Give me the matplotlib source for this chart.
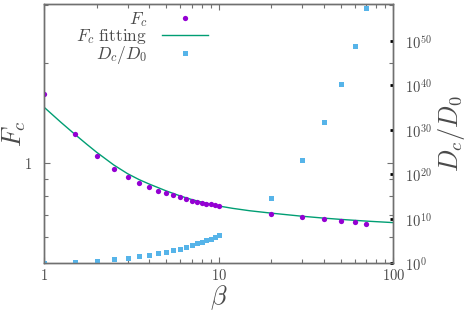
import matplotlib
matplotlib.use("Agg")
import matplotlib.pyplot as plt
from matplotlib.ticker import FixedLocator, FixedFormatter, NullFormatter

plt.rcParams['mathtext.fontset'] = 'cm'
plt.rcParams['font.family'] = ['DejaVu Serif']

# ---- data ----
beta = [1, 1.5, 2, 2.5, 3, 3.5, 4, 4.5, 5, 5.5, 6, 6.5, 7, 7.5, 8, 8.5, 9, 9.5, 10,
        20, 30, 40, 50, 60, 70]
Fc = [1.62, 1.225, 1.052, 0.961, 0.909, 0.874, 0.847, 0.827, 0.812, 0.801, 0.790,
      0.781, 0.772, 0.766, 0.761, 0.756, 0.752, 0.749, 0.745,
      0.705, 0.688, 0.678, 0.670, 0.667, 0.656]
Dc_D0 = [1.0, 2.3, 3.8, 7.9, 15.5, 37, 73, 178, 405, 970, 1.9e3, 4.6e3, 1.1e4, 3.1e4,
         6.1e4, 1.5e5, 3.4e5, 8.1e5, 1.95e6,
         5.5e14, 1.6e23, 5e31, 1.6e40, 6e48, 2.5e57]
fit_beta = [1, 1.25, 1.5, 1.75, 2, 2.5, 3, 3.5, 4, 5, 6, 7, 8, 10, 12, 15, 20, 30, 40,
            50, 70, 100]
fit_Fc = [1.474, 1.327, 1.222, 1.142, 1.079, 0.989, 0.931, 0.893, 0.866, 0.826, 0.798,
          0.778, 0.764, 0.744, 0.732, 0.720, 0.708, 0.693, 0.684, 0.678, 0.670, 0.663]

x_major = [1, 10, 100]
x_major_labels = [r'$1$', r'$10$', r'$100$']
y_major = [1]
y_major_labels = [r'$1$']
y2_major = [1e0, 1e10, 1e20, 1e30, 1e40, 1e50]
y2_major_labels = [r'$10^{0}$', r'$10^{10}$', r'$10^{20}$', r'$10^{30}$',
                   r'$10^{40}$', r'$10^{50}$']

# ---- styles ----
purple = '#9400D3'
green = '#009E73'
blue = '#56B4E9'
grey = '#707070'
txt = '#4a4a4a'

W, H = 469, 316
fig = plt.figure(figsize=(W / 100, H / 100), dpi=100)
L, R, B, T = 44.3, 393.3, 263.3, 4.0
ax = fig.add_axes([L / W, 1 - B / H, (R - L) / W, (B - T) / H])

h1, = ax.plot(beta, Fc, 'o', color=purple, markersize=3.8, markeredgewidth=0,
              label=r'$F_c$', zorder=3)
h2, = ax.plot(fit_beta, fit_Fc, '-', color=green, lw=1.0, label=r'$F_c\ \mathrm{fitting}$',
              zorder=2)
ax.set_xscale('log')
ax.set_yscale('log')
ax.set_xlim(1, 100)
ax.set_ylim(0.5, 3.02)

ax2 = ax.twinx()
h3, = ax2.plot(beta, Dc_D0, 's', color=blue, markersize=3.6, markeredgewidth=0,
               label=r'$D_c/D_0$')
ax2.set_yscale('log')
ax2.set_ylim(1, 10 ** ((B - T) / 4.45))

# x ticks
ax.xaxis.set_major_locator(FixedLocator(x_major))
ax.xaxis.set_major_formatter(FixedFormatter(x_major_labels))
xminor = [m * d for d in (1, 10) for m in range(2, 10)]
ax.xaxis.set_minor_locator(FixedLocator(xminor))
ax.xaxis.set_minor_formatter(NullFormatter())
# left y ticks
ax.yaxis.set_major_locator(FixedLocator(y_major))
ax.yaxis.set_major_formatter(FixedFormatter(y_major_labels))
ax.yaxis.set_minor_locator(FixedLocator([0.5, 0.6, 0.7, 0.8, 0.9, 2, 3]))
ax.yaxis.set_minor_formatter(NullFormatter())

ax.tick_params(which='both', direction='in', top=True, right=True, left=True, bottom=True,
               color=grey, width=0.8, labelcolor=txt, labelsize=10.5)
ax.tick_params(which='major', length=4.3)
ax.tick_params(which='minor', length=2.9)
ax.tick_params(axis='x', which='major', pad=3.5)
ax.tick_params(axis='y', which='major', pad=9.0)

# right y ticks
ax2.yaxis.set_major_locator(FixedLocator(y2_major))
ax2.yaxis.set_major_formatter(FixedFormatter(y2_major_labels))
ax2.yaxis.set_minor_locator(FixedLocator([]))
ax2.tick_params(axis='y', which='major', direction='in', color='black', width=2.0,
                length=2.2, labelcolor=txt, labelsize=10.5, pad=8.5)

for a in (ax, ax2):
    for s in a.spines.values():
        s.set_color(grey)
        s.set_linewidth(1.0)

# axis labels
fig.text(14 / W, 1 - 133.5 / H, r'$F_c$', rotation=90, ha='center', va='center',
         fontsize=19, color=txt)
fig.text(219 / W, 1 - 298 / H, r'$\beta$', ha='center', va='center', fontsize=19, color=txt)
fig.text(451 / W, 1 - 133.5 / H, r'$D_c/D_0$', rotation=90, ha='center', va='center',
         fontsize=19, color=txt)

leg = ax2.legend(handles=[h1, h2, h3], loc='upper right',
                 bbox_to_anchor=(208 / W, 1 - 10 / H), bbox_transform=fig.transFigure,
                 frameon=False, markerfirst=False, fontsize=12.5, handlelength=2.65,
                 handletextpad=0.85, labelspacing=-0.1, borderpad=0, borderaxespad=0)
for t in leg.get_texts():
    t.set_color(txt)

fig.savefig('out.png', dpi=100)
